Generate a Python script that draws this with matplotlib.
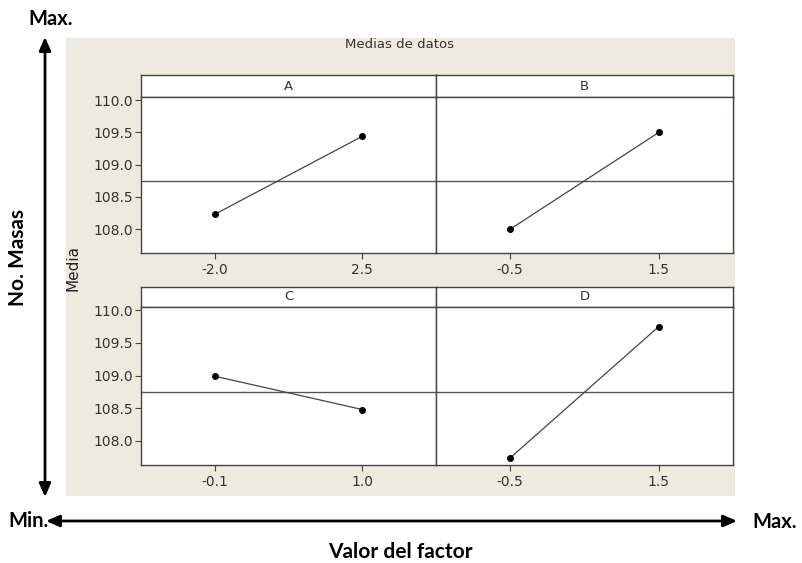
import numpy as np
import matplotlib
matplotlib.use("Agg")
import matplotlib.pyplot as plt
from matplotlib.patches import Rectangle

# ---------------------------------------------------------------
# data: main effects (means) for each factor
# ---------------------------------------------------------------
factors = ["A", "B", "C", "D"]
levels = {
    "A": ["-2.0", "2.5"],
    "B": ["-0.5", "1.5"],
    "C": ["-0.1", "1.0"],
    "D": ["-0.5", "1.5"],
}
means = {
    "A": [108.23, 109.44],
    "B": [108.0, 109.5],
    "C": [108.99, 108.48],
    "D": [107.74, 109.75],
}
grand_mean = 108.75
y_ticks = [108.0, 108.5, 109.0, 109.5, 110.0]
y_ticklabels = ["108.0", "108.5", "109.0", "109.5", "110.0"]

W, H = 803, 563
fig = plt.figure(figsize=(W / 100, H / 100), dpi=100)
fig.patch.set_facecolor("white")

def px_axes(x0, y0, x1, y1, **kw):
    # axes from pixel box (top-left origin)
    return fig.add_axes([x0 / W, 1 - y1 / H, (x1 - x0) / W, (y1 - y0) / H], **kw)

# overlay for background, arrows and outer labels
over = px_axes(0, 0, W, H)
over.set_xlim(0, W)
over.set_ylim(H, 0)
over.axis("off")
over.add_patch(Rectangle((66, 38), 669, 458, facecolor="#eeeae0", edgecolor="none"))
over.text(400, 45, "Medias de datos", ha="center", va="center", fontsize=9.5, color="#333333")
over.text(73, 268, "Media", ha="center", va="center", rotation=90, fontsize=11, color="#222222")

bold = dict(fontfamily="Lato", fontweight="bold", color="black")
over.text(51, 19, "Max.", ha="center", va="center", fontsize=14.5, **bold)
over.text(18, 258, "No. Masas", ha="center", va="center", rotation=90, fontsize=15, **bold)
over.text(29, 521, "Min.", ha="center", va="center", fontsize=14.5, **bold)
over.text(775, 522, "Max.", ha="center", va="center", fontsize=14.5, **bold)
over.text(400, 552, "Valor del factor", ha="center", va="center", fontsize=15, **bold)

arrow = dict(arrowstyle="<|-|>,head_length=0.8,head_width=0.35", color="black", lw=2.0,
             shrinkA=0, shrinkB=0)
over.annotate("", xy=(45, 37), xytext=(45, 497), arrowprops=arrow)
over.annotate("", xy=(46, 521), xytext=(737, 521), arrowprops=arrow)

# panel boxes (pixels): x0, x1, strip top, strip bottom, plot bottom
boxes = {
    "A": (141, 436, 75, 97, 253),
    "B": (436, 733, 75, 97, 253),
    "C": (141, 436, 287, 307, 465),
    "D": (436, 733, 287, 307, 465),
}
edge = "#444444"

for f in factors:
    x0, x1, st, sb, pb = boxes[f]
    strip = px_axes(x0, st, x1, sb)
    strip.set_xticks([])
    strip.set_yticks([])
    strip.text(0.5, 0.5, f, ha="center", va="center", transform=strip.transAxes,
               fontsize=9.5, color="#333333")
    for s in strip.spines.values():
        s.set_color(edge)
        s.set_linewidth(1.0)

    ax = px_axes(x0, sb, x1, pb)
    xs = np.arange(len(levels[f]))
    ax.axhline(grand_mean, color="#555555", lw=1.0, zorder=1)
    ax.plot(xs, means[f], color="#444444", lw=0.9, marker="o", markersize=4,
            markerfacecolor="black", markeredgecolor="black", zorder=3)
    ax.set_xlim(-0.5, 1.5)
    ax.set_ylim(107.63, 110.05)
    ax.set_xticks(xs)
    ax.set_xticklabels(levels[f])
    ax.set_yticks(y_ticks)
    if f in ("A", "C"):
        ax.set_yticklabels(y_ticklabels)
        ax.tick_params(axis="y", length=4, width=0.8, color=edge, labelsize=10,
                       labelcolor="#333333", pad=2)
    else:
        ax.tick_params(axis="y", left=False, labelleft=False)
    ax.tick_params(axis="x", length=4, width=0.8, color=edge, labelsize=10,
                   labelcolor="#333333", pad=3)
    for s in ax.spines.values():
        s.set_color(edge)
        s.set_linewidth(1.0)

fig.savefig("out.png", dpi=100, facecolor="white")
